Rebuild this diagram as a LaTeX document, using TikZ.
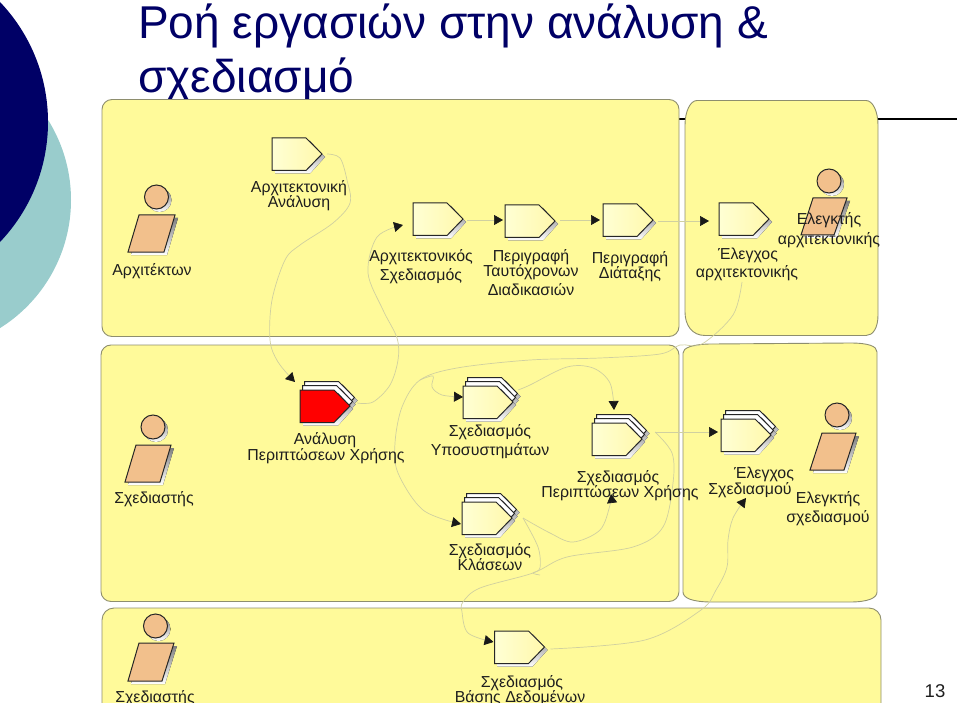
\documentclass[tikz,border=0pt]{standalone}
\usepackage{fontspec}
\setmainfont{Liberation Sans}
\usetikzlibrary{arrows.meta,calc}
\definecolor{navy}{HTML}{000066}
\definecolor{teal2}{HTML}{99CCCC}
\definecolor{panelfill}{HTML}{FFFA9A}
\definecolor{panelline}{HTML}{8E8E6E}
\definecolor{linkc}{HTML}{D0D0A0}
\definecolor{actorfill}{HTML}{F2C08C}
\definecolor{shade}{HTML}{B8B8A0}
\definecolor{txt}{HTML}{1E1E1E}
\definecolor{actleft}{HTML}{FFFFD4}
\definecolor{actright}{HTML}{FFF8AC}
\tikzset{
  panel/.style={draw=panelline,line width=0.9pt,fill=panelfill},
  shapeedge/.style={draw=black!85,line width=1pt,line join=miter},
  link/.style={draw=linkc,line width=0.7pt},
  linkend/.style={link,-{Triangle[length=9pt,width=10pt,color=black!90]}},
  label/.style={text=txt,font=\fontsize{15.9}{16}\selectfont,align=center,inner sep=0pt,anchor=base},
}
\newcommand{\actshape}[4]{% x y fill-left fill-right
  \fill[shade] (#1+3,#2+3) -- ++(35,0) -- ++(15,16) -- ++(-15,16.5) -- ++(-35,0) -- cycle;
  \path[shapeedge,left color=#3,right color=#4] (#1,#2) -- ++(34,0) -- ++(16,16) -- ++(-16,16.5) -- ++(-34,0) -- cycle;}
\newcommand{\activity}[3]{% name x y
  \actshape{#2}{#3}{actleft}{actright}
  \coordinate (#1-w) at (#2,#3+16);
  \coordinate (#1-e) at (#2+50,#3+16);}
\newcommand{\stacked}[5][actleft]{% fill-left name x y fill-right
  \actshape{#3+4.5}{#4-8.5}{white}{white}
  \actshape{#3+2.5}{#4-4.5}{white}{white}
  \actshape{#3}{#4}{#1}{#5}
  \coordinate (#2-w) at (#3,#4+16);
  \coordinate (#2-e) at (#3+50,#4+16);}
\newcommand{\actor}[9]{% name hx hy tlx trx ty blx brx by
  \fill[shade] (#2+3,#3+3) circle (12);
  \fill[shade] (#4+3,#6+3) -- (#5+3,#6+3) -- (#8+3,#9+3) -- (#7+3,#9+3) -- cycle;
  \draw[shapeedge,fill=actorfill] (#2,#3) circle (12);
  \draw[shapeedge,fill=actorfill] (#4,#6) -- (#5,#6) -- (#8,#9) -- (#7,#9) -- cycle;
  \coordinate (#1) at (#2,#3);}
\begin{document}
\begin{tikzpicture}[x=1pt,y=-1pt]
\useasboundingbox (0,0) rectangle (960,703);
\clip (0,0) rectangle (960,703);
% slide background
\fill[teal2] (-80,200) circle (151);
\fill[navy] (-126,122) circle (174);
\node[anchor=base west,inner sep=0pt,text=navy,font=\fontsize{46}{46}\selectfont] (title1) at (138,39) {Ροή εργασιών στην ανάλυση \&};
\node[anchor=base west,inner sep=0pt,text=navy,font=\fontsize{46}{46}\selectfont] (title2) at (138,93) {σχεδιασμό};
\draw[black,line width=1.3pt] (670,119) -- (957,119);
% panels
\draw[panel,rounded corners=10pt] (102,99.5) rectangle (679,336.5);
\draw[panel] (697,100.5) -- (866,100.5) .. controls (873,100.5) and (878,112) .. (878,125)
  -- (878,315) .. controls (878,328) and (873,335.5) .. (866,335.5)
  -- (705,335.5) .. controls (692,335.5) and (685,325) .. (685,312)
  -- (685,125) .. controls (685,112) and (690,100.5) .. (697,100.5) -- cycle;
\draw[panel,rounded corners=10pt] (101,345) rectangle (679,601.5);
\draw[panel] (712,344) -- (850,343) .. controls (868,343) and (877,346) .. (877,352)
  -- (877,592) .. controls (877,598) and (868,602) .. (850,602)
  -- (712,602) .. controls (692,602) and (683,598) .. (683,592)
  -- (683,353) .. controls (683,348) and (692,344) .. (712,344) -- cycle;
\draw[panel,rounded corners=12pt] (102,608) rectangle (881,720);
% activities
\activity{aa}{272}{138}
\activity{ad}{413}{203}
\activity{ac}{505}{205}
\activity{ao}{603}{204}
\activity{ar}{719}{203}
\stacked[red]{uc}{300}{390}{red}
\stacked{ss}{463}{386}{actright}
\stacked{cl}{462}{502}{actright}
\stacked{ud}{592}{423}{actright}
\stacked{dr}{721}{419}{actright}
\activity{db}{494.5}{631}
% actors
\actor{p1}{156.5}{197}{139}{175}{215}{128}{164}{252}
\actor{p2}{829}{181}{813}{847}{198}{801}{834}{235}
\actor{p3}{153}{427}{136}{171}{445}{125}{160}{482}
\actor{p4}{837}{415}{822}{856}{433}{810}{844}{470}
\actor{p5}{155.5}{626}{139}{174}{643}{128}{162}{681}
% connectors
\draw[linkend] plot[smooth,tension=0.55] coordinates {($(aa-e)+(5,0)$) (340,158) (347,180) (350,203) (333,223) (300,245) (285,260) (272,300) (270,340) (278,362) (295,382)};
\draw[linkend] plot[smooth,tension=0.55] coordinates {($(uc-e)+(7,-3)$) (373,402) (390,385) (398,360) (397,338) (383,310) (368,273) (377,237) (403,225)};
\draw[linkend] ($(ad-e)+(4,1)$) -- ($(ac-w)+(-2,-1)$);
\draw[linkend] ($(ac-e)+(5,-1)$) -- ($(ao-w)+(-3,0)$);
\draw[linkend] ($(ao-e)+(5,1)$) -- ($(ar-w)+(-10,2)$);
\draw[linkend] plot[smooth,tension=0.55] coordinates {(742,282) (733,315) (702,344) (680,345) (660,354) (600,358) (530,360) (457,368) (420,380) (402,407) (395,443) (398,473) (423,510) (461,524)};
\draw[linkend] plot[smooth,tension=0.55] coordinates {(420,380) (433,376) (432,387) (442,395) ($(ss-w)+(0,-5)$)};
\draw[linkend] plot[smooth,tension=0.55] coordinates {($(ss-e)+(5,-12)$) (530,385) (567,367) (593,368) (610,383) (614,410)};
\draw[linkend] plot[smooth,tension=0.55] coordinates {($(cl-e)+(11,0)$) (550,533) (573,542) (600,530) (610,505) (611,494)};
\draw[link] plot[smooth,tension=0.55] coordinates {($(cl-e)+(11,0)$) (538,547) (540,568) (533,573) (540,575)};
\draw[linkend] ($(ud-e)+(13,-7)$) -- ($(dr-w)+(-3,-3)$);
\draw[linkend] plot[smooth,tension=0.55] coordinates {($(ud-e)+(13,-7)$) (672,453) (673,483) (663,527) (633,547) (567,557) (533,573) (480,588) (463,602) (462,612) (468,633) ($(db-w)+(-1,-5)$)};
\draw[linkend] plot[smooth,tension=0.55] coordinates {($(db-e)+(6,2)$) (645,640) (701,610) (716,590) (727,567) (728,540) (733,518) (746,498)};
% labels
\node[label] (laa) at (299,193) {Αρχιτεκτονική};
\node[label] (laa2) at (299,208) {Ανάλυση};
\node[label] (lp1) at (152,275) {Αρχιτέκτων};
\node[label] (lad) at (421,261) {Αρχιτεκτονικός};
\node[label] (lad2) at (421,280) {Σχεδιασμός};
\node[label] (lac) at (531,261) {Περιγραφή};
\node[label] (lac2) at (531,276) {Ταυτόχρονων};
\node[label] (lac3) at (531,295) {Διαδικασιών};
\node[label] (lao) at (630,263) {Περιγραφή};
\node[label] (lao2) at (630,278) {Διάταξης};
\node[label] (lar) at (748,259) {Έλεγχος};
\node[label] (lar2) at (747,277) {αρχιτεκτονικής};
\node[label] (lp2) at (829,225) {Ελεγκτής};
\node[label] (lp22) at (829,244) {αρχιτεκτονικής};
\node[label] (luc) at (325,444) {Ανάλυση};
\node[label] (luc2) at (326,460) {Περιπτώσεων Χρήσης};
\node[label] (lss) at (490,436) {Σχεδιασμός};
\node[label] (lss2) at (490,455) {Υποσυστημάτων};
\node[label] (lp3) at (154,503) {Σχεδιαστής};
\node[label] (lcl) at (490,555) {Σχεδιασμός};
\node[label] (lcl2) at (490,570) {Κλάσεων};
\node[label] (lud) at (618,482) {Σχεδιασμός};
\node[label] (lud2) at (620,497) {Περιπτώσεων Χρήσης};
\node[label] (ldr) at (764,478) {Έλεγχος};
\node[label] (ldr2) at (750,494) {Σχεδιασμού};
\node[label] (lp4) at (828,503) {Ελεγκτής};
\node[label] (lp42) at (828,522) {σχεδιασμού};
\node[label] (lp5) at (155,702) {Σχεδιαστής};
\node[label] (ldb) at (522,687) {Σχεδιασμός};
\node[label] (ldb2) at (520,702) {Βάσης Δεδομένων};
\node[label,font=\fontsize{18.5}{18}\selectfont] (pg) at (935,697) {13};
\end{tikzpicture}
\end{document}
